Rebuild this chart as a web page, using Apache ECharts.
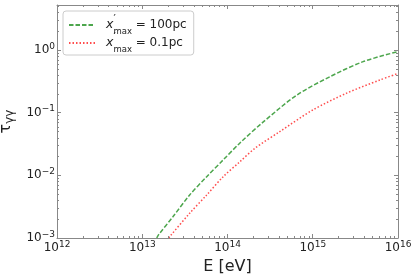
<!DOCTYPE html>
<html>
<head>
<meta charset="utf-8">
<script src="https://cdn.jsdelivr.net/npm/echarts@6/dist/echarts.min.js"></script>
<style>html,body{margin:0;padding:0;background:#fff;}#c{width:415px;height:277px;}</style>
</head>
<body>
<div id="c"></div>
<script>
// Energy values [eV] and optical depth for the two cases
const energyGreen = [1.48e13, 1.55e13, 2.3e13, 3.6e13, 5.7e13, 8.9e13, 1.4e14, 2.63e14, 6.5e14, 1.6e15, 3.9e15, 1e16];
const tauGreen    = [1.0e-3, 1.12e-3, 2.2e-3, 4.85e-3, 9.5e-3, 1.76e-2, 3.28e-2, 7.1e-2, 0.19, 0.375, 0.65, 0.94];
const energyRed   = [2.05e13, 2.1e13, 3.6e13, 5.7e13, 8.9e13, 1.4e14, 2.1e14, 4.1e14, 1.0e15, 2.5e15, 6.15e15, 1e16];
const tauRed      = [1.0e-3, 1.05e-3, 2.48e-3, 4.85e-3, 9.5e-3, 1.65e-2, 2.7e-2, 4.97e-2, 0.11, 0.204, 0.332, 0.42];
const seriesNames = ['100pc', '0.1pc'];
const xRange = [1e12, 1e16];
const yRange = [1e-3, 5.2];
const xDecades = [12, 13, 14, 15];
const yDecades = [-3, -2, -1, 0];
const minorMantissas = [2, 3, 4, 5, 6, 7, 8, 9];

const xMinor = [];
xDecades.forEach(d => minorMantissas.forEach(m => xMinor.push([m * Math.pow(10, d), 1])));
const yMinor = [];
yDecades.forEach(d => minorMantissas.forEach(m => { const v = m * Math.pow(10, d); if (v < yRange[1]) yMinor.push([1e13, v]); }));

const FONT = 'DejaVu Sans';
const AXC = '#888';
const TXT = '#222';

function powLabel(v) {
  const e = Math.log10(v);
  const r = Math.round(e);
  if (Math.abs(e - r) > 1e-6) return '';
  const s = r < 0 ? '\u2212' + Math.abs(r) : String(r);
  return '{b|10}{s|' + s + '}';
}
const labelRich = {
  b: {fontFamily: FONT, fontSize: 12, color: TXT, lineHeight: 16},
  s: {fontFamily: FONT, fontSize: 9, color: TXT, verticalAlign: 'top', lineHeight: 9}
};

const tickStyle = {inside: true, length: 4, lineStyle: {color: AXC, width: 1}};

function legendLabel(name) {
  return '{x|x}{p|\u2032}{m|max}{t| = ' + name + '}';
}

function minorRender(isX) {
  return function (params, api) {
    const cs = params.coordSys;
    const style = {stroke: AXC, lineWidth: 1};
    if (isX) {
      const x = Math.round(api.coord([api.value(0), 1])[0]) + 0.5;
      return {type: 'group', children: [
        {type: 'line', shape: {x1: x, y1: cs.y + cs.height, x2: x, y2: cs.y + cs.height - 2}, style},
        {type: 'line', shape: {x1: x, y1: cs.y, x2: x, y2: cs.y + 2}, style}
      ]};
    } else {
      const y = Math.round(api.coord([1e13, api.value(1)])[1]) + 0.5;
      return {type: 'group', children: [
        {type: 'line', shape: {x1: cs.x, y1: y, x2: cs.x + 2, y2: y}, style},
        {type: 'line', shape: {x1: cs.x + cs.width, y1: y, x2: cs.x + cs.width - 2, y2: y}, style}
      ]};
    }
  };
}

const chart = echarts.init(document.getElementById('c'), null, {renderer: 'canvas'});
chart.setOption({
  animation: false,
  backgroundColor: '#fff',
  grid: {left: 57, right: 17, top: 5, bottom: 39, outerBoundsMode: 'none', containLabel: false},
  legend: {
    orient: 'vertical', left: 63, top: 11,
    padding: [3, 7, 1, 5],
    itemWidth: 26, itemHeight: 14, itemGap: -4,
    borderColor: '#ccc', borderWidth: 1, borderRadius: 3,
    backgroundColor: 'rgba(255,255,255,0.8)',
    itemStyle: {color: 'rgba(0,0,0,0)', borderWidth: 0, opacity: 0},
    data: seriesNames,
    formatter: legendLabel,
    textStyle: {
      padding: [0, 0, 0, 6],
      rich: {
        x: {fontFamily: FONT, fontStyle: 'italic', fontSize: 12.5, color: TXT, lineHeight: 22},
        p: {fontFamily: FONT, fontSize: 10.5, color: TXT, verticalAlign: 'top', lineHeight: 19, width: 0},
        m: {fontFamily: FONT, fontSize: 8.5, color: TXT, verticalAlign: 'bottom', lineHeight: 12},
        t: {fontFamily: FONT, fontSize: 12, color: TXT, lineHeight: 22}
      }
    }
  },
  xAxis: [{
    type: 'log', logBase: 10, min: xRange[0], max: xRange[1],
    name: 'E [eV]', nameLocation: 'middle', nameGap: 17,
    nameTextStyle: {fontFamily: FONT, fontSize: 16, color: TXT},
    axisLine: {lineStyle: {color: AXC}},
    axisTick: tickStyle,
    axisLabel: {formatter: powLabel, rich: labelRich, margin: 2},
    splitLine: {show: false}
  }, {
    type: 'log', logBase: 10, min: xRange[0], max: xRange[1], position: 'top',
    axisLine: {lineStyle: {color: AXC}},
    axisTick: tickStyle,
    axisLabel: {show: false},
    splitLine: {show: false}
  }],
  yAxis: [{
    type: 'log', logBase: 10, min: yRange[0], max: yRange[1],
    name: '{t|\u03c4}{s|\u03b3\u03b3}', nameLocation: 'middle', nameGap: 35, nameRotate: 90,
    nameTextStyle: {rich: {
      t: {fontFamily: FONT, fontSize: 16, color: TXT, lineHeight: 20},
      s: {fontFamily: FONT, fontSize: 12, color: TXT, verticalAlign: 'bottom', lineHeight: 12}
    }},
    axisLine: {lineStyle: {color: AXC}},
    axisTick: tickStyle,
    axisLabel: {formatter: powLabel, rich: labelRich, margin: 2, showMaxLabel: false},
    splitLine: {show: false}
  }, {
    type: 'log', logBase: 10, min: yRange[0], max: yRange[1], position: 'right',
    axisLine: {lineStyle: {color: AXC}},
    axisTick: tickStyle,
    axisLabel: {show: false},
    splitLine: {show: false}
  }],
  series: [{
    name: seriesNames[0], type: 'line', symbol: 'none', smooth: 0.3,
    data: energyGreen.map((e, i) => [e, tauGreen[i]]),
    lineStyle: {color: '#4da64d', width: 1.5, type: [4.5, 2]},
    itemStyle: {color: '#4da64d'}
  }, {
    name: seriesNames[1], type: 'line', symbol: 'none', smooth: 0.3,
    data: energyRed.map((e, i) => [e, tauRed[i]]),
    lineStyle: {color: '#ff4d4d', width: 1.5, type: [1.5, 2]},
    itemStyle: {color: '#ff4d4d'}
  }, {
    type: 'custom', renderItem: minorRender(true), data: xMinor, clip: false, silent: true, z: 5
  }, {
    type: 'custom', renderItem: minorRender(false), data: yMinor, clip: false, silent: true, z: 5
  }]
});
</script>
</body>
</html>
